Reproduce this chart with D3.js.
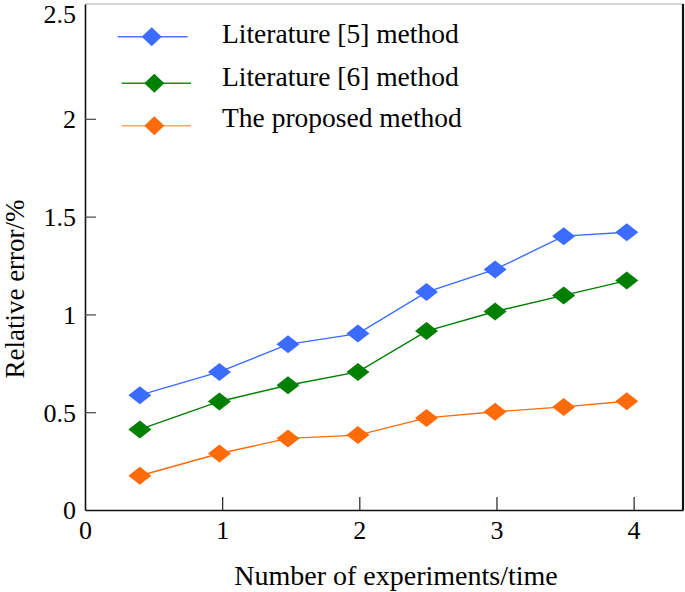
<!DOCTYPE html>
<html>
<head>
<meta charset="utf-8">
<script src="https://cdn.jsdelivr.net/npm/d3@7"></script>
<style>
  html, body { margin: 0; padding: 0; background: #fff; }
  svg { display: block; }
  svg text { font-family: "Liberation Serif", "Times New Roman", serif; fill: #000; }
</style>
</head>
<body>
<svg id="chart" width="685" height="592"></svg>
<script>
// ---- data ----
const experiments = [0.4, 0.98, 1.48, 1.99, 2.49, 2.99, 3.49, 3.95];
const lit5 = [0.587, 0.706, 0.847, 0.902, 1.114, 1.23, 1.40, 1.42];
const lit6 = [0.412, 0.555, 0.638, 0.706, 0.915, 1.015, 1.097, 1.173];
const proposed = [0.175, 0.289, 0.366, 0.383, 0.471, 0.502, 0.527, 0.556];
const seriesNames = ["Literature [5] method", "Literature [6] method", "The proposed method"];
const xTicks = [0, 1, 2, 3, 4];
const yTicks = [0, 0.5, 1, 1.5, 2, 2.5];
const colors = ["#3b6cff", "#007f00", "#ff6a0a"];
const legendLineColors = ["#4a78ff", "#1a8a1a", "#ffa070"];

const svg = d3.select("#chart");
const L = 85, R = 683, T = 4, B = 510;
const x = d3.scaleLinear().domain([0, 4.36]).range([L, R]);
const y = d3.scaleLinear().domain([0, 2.587]).range([B, T]);

// frame: top light, right dark
svg.append("line").attr("x1", L).attr("x2", R).attr("y1", T).attr("y2", T)
  .attr("stroke", "#aaa").attr("stroke-width", 1);
svg.append("line").attr("x1", R).attr("x2", R).attr("y1", T).attr("y2", B)
  .attr("stroke", "#111").attr("stroke-width", 2.2);

// axes
const xAxis = d3.axisBottom(x).tickValues(xTicks).tickSize(0).tickPadding(0).tickFormat(d3.format("d"));
const gx = svg.append("g").attr("transform", `translate(0,${B})`).call(xAxis).attr("font-family", null);
gx.select(".domain").attr("stroke", "#111").attr("stroke-width", 1.6);
gx.selectAll(".tick line").remove();
gx.selectAll(".tick text").attr("font-size", 26).attr("y", 29).attr("dy", 0);
gx.selectAll(".tick").filter(d => d > 0).append("line")
  .attr("y1", 0).attr("y2", -13).attr("stroke", "#222").attr("stroke-width", 1.2);

const yAxis = d3.axisLeft(y).tickValues(yTicks).tickSize(0).tickPadding(0).tickFormat(d => d3.format("")(d));
const gy = svg.append("g").attr("transform", `translate(${L},0)`).call(yAxis).attr("font-family", null);
gy.select(".domain").attr("stroke", "#111").attr("stroke-width", 1.6);
gy.selectAll(".tick line").remove();
gy.selectAll(".tick text").attr("font-size", 26).attr("x", -9).attr("dy", "0.34em");
gy.selectAll(".tick").filter(d => d === 2.5).select("text").attr("dy", "0.07em");
gy.selectAll(".tick").filter(d => d > 0 && d < 2.5).append("line")
  .attr("x1", 0).attr("x2", 11).attr("stroke", "#444").attr("stroke-width", 1.2);

// axis titles
svg.append("text").attr("x", (L + R) / 2 + 12).attr("y", 585)
  .attr("text-anchor", "middle").attr("font-size", 28)
  .text("Number of experiments/time");
svg.append("text").attr("transform", "translate(24,289) rotate(-90)")
  .attr("text-anchor", "middle").attr("font-size", 27)
  .text("Relative error/%");

// series
const allSeries = [lit5, lit6, proposed];
const line = d3.line().x(d => x(d[0])).y(d => y(d[1]));
const diamond = (cx, cy, hw, hh) => `M${cx},${cy - hh}L${cx + hw},${cy}L${cx},${cy + hh}L${cx - hw},${cy}Z`;

allSeries.forEach((vals, i) => {
  const pts = experiments.map((e, j) => [e, vals[j]]);
  svg.append("path").datum(pts).attr("d", line)
    .attr("fill", "none").attr("stroke", colors[i]).attr("stroke-width", 1.4);
  svg.append("g").selectAll("path").data(pts).join("path")
    .attr("d", d => diamond(x(d[0]), y(d[1]), 11.5, 9))
    .attr("fill", colors[i]);
});

// legend
const legendRows = [
  { lx1: 117.7, lx2: 187.7, cx: 151.7, cy: 36.7, ty: 43 },
  { lx1: 121.7, lx2: 191, cx: 154.3, cy: 83.3, ty: 86 },
  { lx1: 121.7, lx2: 191, cx: 154.3, cy: 125.7, ty: 127 }
];
seriesNames.forEach((name, i) => {
  const r = legendRows[i];
  const g = svg.append("g");
  g.append("line").attr("x1", r.lx1).attr("x2", r.lx2).attr("y1", r.cy).attr("y2", r.cy)
    .attr("stroke", legendLineColors[i]).attr("stroke-width", 1.4);
  g.append("path").attr("d", diamond(r.cx, r.cy, 10, 9.5)).attr("fill", colors[i]);
  g.append("text").attr("x", 222).attr("y", r.ty).attr("font-size", 27.5).text(name);
});
</script>
</body>
</html>
